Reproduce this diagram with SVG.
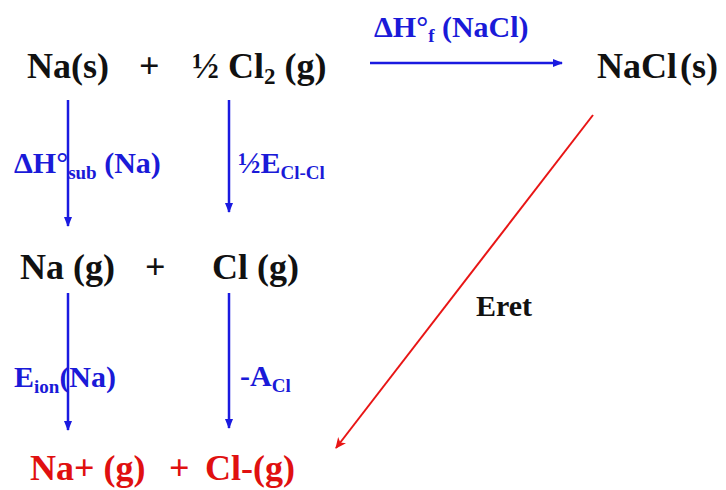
<svg xmlns="http://www.w3.org/2000/svg" width="726" height="490" viewBox="0 0 726 490">
<style>
text{font-family:"Liberation Serif","DejaVu Serif","Noto Serif",serif;font-weight:bold}
.sp{fill:#111;font-size:36px}
.lb{fill:#1a1ad8;font-size:30px}
.red{fill:#e01010;font-size:36px}
.blue{stroke:#1a1ae0;stroke-width:2.5;fill:none}
.rd{stroke:#e81515;stroke-width:2;fill:none}
</style>
<defs>
<marker id="ab" markerWidth="10" markerHeight="8" refX="9" refY="4" orient="auto" markerUnits="userSpaceOnUse"><path d="M0,0 L10,4 L0,8 Z" fill="#1a1ae0"/></marker>
<marker id="ar" markerWidth="12" markerHeight="10" refX="10" refY="5" orient="auto" markerUnits="userSpaceOnUse"><path d="M0,0 L11,5 L0,10 L3,5 Z" fill="#e81515"/></marker>
</defs>
<g id="connectors">
<line class="blue" x1="370" y1="63" x2="562" y2="63" marker-end="url(#ab)"/>
<line class="blue" x1="68" y1="100" x2="68" y2="226" marker-end="url(#ab)"/>
<line class="blue" x1="229" y1="100" x2="229" y2="212" marker-end="url(#ab)"/>
<line class="blue" x1="68" y1="293" x2="68" y2="430" marker-end="url(#ab)"/>
<line class="blue" x1="229" y1="293" x2="229" y2="428" marker-end="url(#ab)"/>
<line class="rd" x1="593" y1="115" x2="336" y2="448" marker-end="url(#ar)"/>
</g>
<g id="reactants"><text class="sp" y="78"><tspan x="27">Na(s)</tspan><tspan x="139">+</tspan><tspan x="192">½ Cl</tspan><tspan font-size="23" dy="6">2</tspan><tspan dy="-6"> (g)</tspan></text></g>
<g id="product"><text class="sp" y="78"><tspan x="597">NaCl</tspan><tspan x="680">(s)</tspan></text></g>
<g id="gas"><text class="sp" y="279"><tspan x="20">Na (g)</tspan><tspan x="145">+</tspan><tspan x="212">Cl (g)</tspan></text></g>
<g id="ions"><text class="red" y="480"><tspan x="30">Na+ (g)</tspan><tspan x="169">+</tspan><tspan x="205">Cl-(g)</tspan></text></g>
<g id="labels">
<text class="lb" x="374" y="37">ΔH°<tspan font-size="19" dy="5">f</tspan><tspan dy="-5"> (NaCl)</tspan></text>
<text class="lb" x="14" y="173">ΔH°<tspan font-size="19" dy="6">sub</tspan><tspan dy="-6"> (Na)</tspan></text>
<text class="lb" x="238" y="173">½E<tspan font-size="19" dy="6">Cl-Cl</tspan></text>
<text class="lb" x="14" y="387">E<tspan font-size="19" dy="6">ion</tspan><tspan dy="-6">(Na)</tspan></text>
<text class="lb" x="240" y="386">-A<tspan font-size="19" dy="6">Cl</tspan></text>
<text x="476" y="316" style="fill:#111;font-size:30px">Eret</text>
</g>
</svg>
